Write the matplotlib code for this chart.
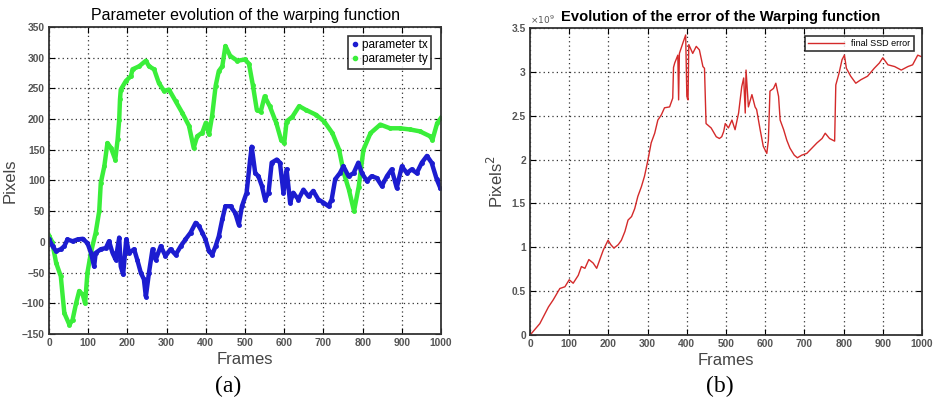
import matplotlib.pyplot as plt
from matplotlib.lines import Line2D
from matplotlib.ticker import FuncFormatter

plt.rcParams["font.family"] = ["Liberation Sans", "DejaVu Sans"]

# parameter ty (green)
ty_frames = [0, 8, 18, 30, 39, 52, 60, 69, 77, 86, 92, 98, 107, 119, 128, 132, 141, 149, 158,
             169, 175, 179, 181, 183, 196, 209, 213, 230, 247, 255, 268, 280, 293, 306, 323,
             340, 357, 369, 378, 391, 400, 408, 416, 425, 433, 442, 450, 462, 480, 500, 510,
             520, 530, 540, 550, 563, 580, 592, 600, 606, 621, 638, 655, 681, 702, 723, 740,
             752, 765, 778, 790, 802, 820, 845, 870, 895, 921, 946, 972, 978, 990, 1000]
ty_values = [10, 0, -34, -56, -116, -135, -127, -100, -80, -86, -100, -50, -17, 15, 50, 96, 123,
             161, 153, 134, 167, 199, 232, 248, 262, 270, 281, 286, 295, 286, 281, 259, 246,
             248, 229, 210, 189, 153, 172, 178, 194, 175, 205, 254, 278, 286, 319, 303, 295,
             297, 290, 255, 215, 212, 237, 221, 193, 166, 161, 196, 204, 221, 215, 207, 196,
             177, 150, 112, 85, 50, 90, 150, 177, 191, 185, 185, 183, 180, 172, 166, 193, 202]

# parameter tx (blue)
tx_frames = [0, 9, 18, 30, 39, 47, 60, 73, 86, 98, 107, 115, 119, 132, 145, 153, 162, 170, 179,
             183, 189, 197, 204, 217, 225, 234, 242, 247, 255, 264, 272, 285, 297, 310, 323,
             336, 348, 361, 374, 382, 391, 399, 408, 416, 425, 433, 442, 450, 463, 475, 484,
             492, 504, 513, 517, 526, 534, 543, 551, 560, 568, 581, 589, 598, 606, 615, 623,
             636, 649, 662, 674, 687, 700, 713, 721, 730, 742, 751, 764, 777, 789, 798, 811,
             823, 836, 849, 862, 874, 887, 900, 913, 925, 938, 951, 964, 976, 989, 998]
tx_values = [4, -7, -15, -12, -7, 4, 1, 4, 5, -2, -18, -40, -18, -12, -10, 1, -18, -29, 7, -40,
             -53, 4, -18, -12, -29, -50, -61, -89, -50, -12, -29, -7, -23, -12, -21, -7, 4, 15,
             31, 26, 15, 4, -15, -21, -7, 9, 37, 58, 58, 47, 28, 58, 80, 134, 155, 112, 107, 91,
             69, 80, 129, 134, 129, 80, 118, 64, 80, 69, 85, 74, 83, 69, 64, 58, 69, 102, 112,
             123, 107, 112, 129, 112, 99, 107, 104, 91, 107, 118, 88, 123, 112, 118, 112, 129,
             140, 129, 102, 88]

# final SSD error (x 10^9), right panel
err_frames = [0, 4, 25, 47, 59, 76, 89, 100, 110, 123, 131, 140, 150, 161, 170, 178, 187, 199,
              206, 214, 225, 233, 242, 250, 259, 267, 275, 284, 292, 301, 309, 318, 326, 335,
              343, 356, 364, 366, 369, 377, 379, 381, 390, 397, 400, 403, 405, 415, 424, 432,
              441, 445, 449, 462, 475, 483, 489, 494, 498, 506, 515, 523, 532, 540, 545, 549,
              551, 557, 566, 574, 578, 587, 595, 604, 608, 612, 621, 627, 634, 638, 647, 655,
              663, 674, 682, 693, 706, 719, 732, 745, 753, 764, 777, 780, 788, 796, 802, 807,
              818, 831, 844, 861, 878, 891, 900, 913, 930, 947, 964, 976, 989, 1000]
err_values = [0, 0.02, 0.13, 0.32, 0.40, 0.53, 0.55, 0.63, 0.59, 0.68, 0.78, 0.76, 0.86, 0.82,
              0.76, 0.86, 0.97, 1.08, 1.03, 0.99, 1.03, 1.08, 1.18, 1.31, 1.35, 1.44, 1.58, 1.69,
              1.81, 2.0, 2.19, 2.30, 2.45, 2.51, 2.59, 2.60, 2.70, 3.05, 3.10, 3.19, 2.68, 3.21,
              3.33, 3.42, 2.72, 2.68, 3.31, 3.21, 3.29, 3.25, 3.06, 3.04, 2.41, 2.36, 2.26, 2.24,
              2.26, 2.32, 2.41, 2.36, 2.45, 2.34, 2.53, 2.83, 2.93, 2.53, 3.02, 2.60, 2.74, 2.60,
              2.57, 2.34, 2.15, 2.07, 2.22, 2.78, 2.81, 2.87, 2.72, 2.45, 2.34, 2.22, 2.13, 2.05,
              2.02, 2.05, 2.07, 2.13, 2.19, 2.24, 2.30, 2.24, 2.21, 2.85, 2.98, 3.14, 3.19, 3.04,
              2.95, 2.87, 2.91, 2.95, 3.04, 3.10, 3.16, 3.08, 3.06, 3.02, 3.06, 3.08, 3.19, 3.17]

x_ticks = list(range(0, 1001, 100))
left_yticks = list(range(-150, 351, 50))
right_yticks = [0, 0.5, 1, 1.5, 2, 2.5, 3, 3.5]

BLUE = "#1c1cd0"
GREEN = "#3aee3a"
RED = "#d42a2a"
TICKC = "#555555"

fig = plt.figure(figsize=(9.34, 4.04), dpi=100)
ax1 = fig.add_axes([0.0525, 0.1733, 0.4197, 0.760])
ax2 = fig.add_axes([0.5675, 0.1708, 0.4197, 0.760])


def matlab_style(ax):
    ax.grid(True, linestyle=(0, (1, 2.5)), color="#333333", linewidth=0.9)
    ax.tick_params(direction="in", top=True, right=True, length=4, width=0.8,
                   labelsize=7.4, labelcolor=TICKC, pad=3)
    for lab in ax.get_xticklabels() + ax.get_yticklabels():
        lab.set_fontweight("bold")
    for sp in ax.spines.values():
        sp.set_linewidth(1.3)
        sp.set_color("#333333")
    ax.set_xlabel("Frames", fontsize=12, color="#444444", labelpad=3)


# left panel: scatter-like thick dotted curves
ax1.plot(ty_frames, ty_values, color=GREEN, lw=3.2, marker=".", ms=5)
ax1.plot(tx_frames, tx_values, color=BLUE, lw=3.2, marker=".", ms=5)
ax1.set_xlim(0, 1000)
ax1.set_ylim(-150, 350)
ax1.set_xticks(x_ticks)
ax1.set_yticks(left_yticks)
matlab_style(ax1)
ax1.set_ylabel("Pixels", fontsize=12, color="#444444", labelpad=3)
ax1.set_title("Parameter evolution of the warping function", fontsize=11.5, pad=5)
handles = [Line2D([], [], ls="none", marker=".", ms=6, color=BLUE),
           Line2D([], [], ls="none", marker=".", ms=6, color=GREEN)]
leg = ax1.legend(handles, ["parameter tx", "parameter ty"], loc="upper right",
                 fontsize=8.5, fancybox=False, edgecolor="black", handlelength=0.6,
                 handletextpad=0.3, borderpad=0.3, labelspacing=0.15,
                 bbox_to_anchor=(0.99, 0.99))
leg.get_frame().set_linewidth(1.2)

# right panel: error line
ax2.plot(err_frames, err_values, color=RED, lw=1.0, label="final SSD error")
ax2.set_xlim(0, 1000)
ax2.set_ylim(0, 3.5)
ax2.set_xticks(x_ticks)
ax2.set_yticks(right_yticks)
ax2.yaxis.set_major_formatter(FuncFormatter(lambda v, p: "%g" % v))
matlab_style(ax2)
ax2.set_ylabel("Pixels$^2$", fontsize=12, color="#444444", labelpad=4)
ax2.set_title("Evolution of the error of the Warping function", fontsize=10.6,
              fontweight="bold", pad=5, x=0.485)
ax2.text(0.0, 1.005, r"$\times10^9$", transform=ax2.transAxes, fontsize=6.5,
         color=TICKC, va="bottom", ha="left")
leg2 = ax2.legend(loc="upper right", fontsize=6.5, fancybox=False, edgecolor="black",
                  handlelength=4, borderpad=0.35, bbox_to_anchor=(0.99, 0.99))
leg2.get_frame().set_linewidth(1.2)

# sub-figure captions
fig.text(0.244, 0.03, "(a)", fontsize=17, family="Liberation Serif", ha="center")
fig.text(0.771, 0.03, "(b)", fontsize=17, family="Liberation Serif", ha="center")

fig.savefig("out.png", dpi=100)
